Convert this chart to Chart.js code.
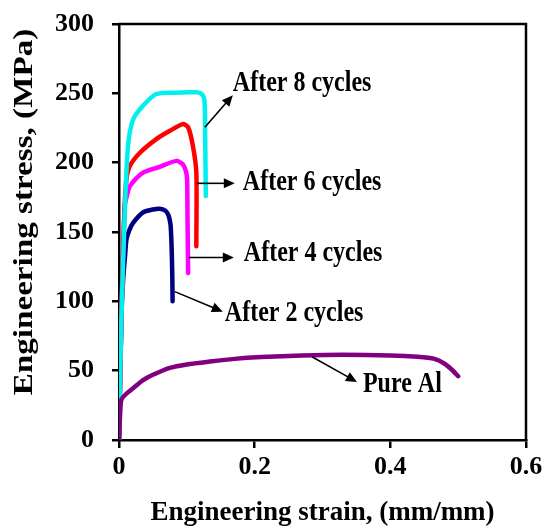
<!DOCTYPE html>
<html>
<head>
<meta charset="utf-8">
<script src="https://cdn.jsdelivr.net/npm/chart.js@4"></script>
<style>
  html, body { margin: 0; padding: 0; background: #ffffff; }
  #wrap { width: 545px; height: 529px; }
</style>
</head>
<body>
<div id="wrap"><canvas id="c" width="545" height="529"></canvas></div>
<script>
// ---- Data ----
const pureAlStrain = [0, 0.002, 0.0035, 0.01, 0.02, 0.035, 0.05, 0.075, 0.1, 0.134, 0.17, 0.21, 0.27, 0.33, 0.4, 0.44, 0.465, 0.48, 0.49, 0.5];
const pureAlStress = [0, 22, 29, 33, 37, 43, 47, 52, 54.5, 56.6, 58.5, 59.8, 61, 61.5, 61, 60, 58.5, 55, 51, 46];

const c2Strain = [0, 0.0035, 0.006, 0.009, 0.011, 0.015, 0.021, 0.035, 0.05, 0.06, 0.068, 0.073, 0.076, 0.0775, 0.0785, 0.079];
const c2Stress = [0, 87, 115, 133, 144.6, 151, 156.7, 164, 166.2, 166.8, 165.5, 162, 155, 140, 120, 100];

const c4Strain = [0, 0.004, 0.0085, 0.012, 0.016, 0.025, 0.0354, 0.06, 0.0847, 0.094, 0.0985, 0.1004, 0.101, 0.1019];
const c4Stress = [0, 100, 168.7, 177, 183, 188.5, 192.8, 197, 201.3, 198.8, 194, 188, 160, 120.5];

const c6Strain = [0, 0.004, 0.008, 0.011, 0.016, 0.0305, 0.055, 0.075, 0.094, 0.102, 0.109, 0.114, 0.114];
const c6Stress = [0, 100, 165, 188, 197.6, 207, 217, 223, 227.8, 225.4, 212, 192.8, 139.8];

const c8Strain = [0, 0.0035, 0.0085, 0.0133, 0.0207, 0.0354, 0.055, 0.08, 0.114, 0.122, 0.126, 0.127, 0.128];
const c8Stress = [0, 87, 164, 212, 231, 241, 249.5, 250.5, 250.7, 249.5, 245, 220, 176];

const seriesNames = ['Pure Al', 'After 8 cycles', 'After 6 cycles', 'After 4 cycles', 'After 2 cycles'];
const xTicks = [0, 0.2, 0.4, 0.6];
const yTicks = [0, 50, 100, 150, 200, 250, 300];
const xTitle = 'Engineering strain, (mm/mm)';
const yTitle = 'Engineering stress, (MPa)';

// Annotation labels (text + data-space anchor of arrow tail, arrow head, text)
const noteTexts = ['After 8 cycles', 'After 6 cycles', 'After 4 cycles', 'After 2 cycles', 'Pure Al'];
const noteTail  = [[0.1266, 225.6], [0.1147, 185.1], [0.1029, 131.6], [0.0822, 107], [0.2844, 60]];
const noteHead  = [[0.1678, 248.7], [0.1707, 185.1], [0.1693, 131.6], [0.153, 92.5], [0.3508, 41.9]];
const noteText  = [[0.1678, 257.4], [0.1826, 185.8], [0.184, 134.5], [0.156, 91], [0.3596, 39.8]];

// ---- Build chart ----
const zip = (xs, ys) => xs.map((x, i) => ({ x: x, y: ys[i] }));
const colors = ['#800080', '#00F0F0', '#FF0000', '#FF00FF', '#000080'];
const seriesData = [
  zip(pureAlStrain, pureAlStress),
  zip(c8Strain, c8Stress),
  zip(c6Strain, c6Stress),
  zip(c4Strain, c4Stress),
  zip(c2Strain, c2Stress)
];

const FONT = "'Liberation Serif', 'Times New Roman', serif";

const frameAndNotes = {
  id: 'frameAndNotes',
  afterDraw(chart) {
    const { ctx, chartArea: a, scales } = chart;
    const xs = scales.x, ys = scales.y;
    ctx.save();
    // top and right frame lines
    ctx.strokeStyle = '#000';
    ctx.lineWidth = 2.5;
    ctx.beginPath();
    ctx.moveTo(a.left - 1, a.top);
    ctx.lineTo(a.right, a.top);
    ctx.lineTo(a.right, a.bottom + 1);
    ctx.stroke();
    // y axis title (tall serif look of the reference)
    ctx.save();
    ctx.translate(25, 212);
    ctx.rotate(-Math.PI / 2);
    ctx.scale(1.25, 1);
    ctx.font = 'bold 26.5px ' + FONT;
    ctx.fillStyle = '#000';
    ctx.textAlign = 'center';
    ctx.textBaseline = 'middle';
    ctx.fillText(yTitle, 0, 0);
    ctx.restore();
    // annotations
    for (let i = 0; i < noteTexts.length; i++) {
      const x0 = xs.getPixelForValue(noteTail[i][0]), y0 = ys.getPixelForValue(noteTail[i][1]);
      const x1 = xs.getPixelForValue(noteHead[i][0]), y1 = ys.getPixelForValue(noteHead[i][1]);
      const ang = Math.atan2(y1 - y0, x1 - x0);
      const L = 11, W = 5;
      ctx.strokeStyle = '#000';
      ctx.fillStyle = '#000';
      ctx.lineWidth = 1.6;
      ctx.beginPath();
      ctx.moveTo(x0, y0);
      ctx.lineTo(x1 - Math.cos(ang) * L * 0.8, y1 - Math.sin(ang) * L * 0.8);
      ctx.stroke();
      ctx.beginPath();
      ctx.moveTo(x1, y1);
      ctx.lineTo(x1 - Math.cos(ang) * L - Math.sin(ang) * W, y1 - Math.sin(ang) * L + Math.cos(ang) * W);
      ctx.lineTo(x1 - Math.cos(ang) * L + Math.sin(ang) * W, y1 - Math.sin(ang) * L - Math.cos(ang) * W);
      ctx.closePath();
      ctx.fill();
      const tx = xs.getPixelForValue(noteText[i][0]), ty = ys.getPixelForValue(noteText[i][1]);
      ctx.save();
      ctx.translate(tx, ty);
      ctx.scale(1, 1.22);
      ctx.font = 'bold 24px ' + FONT;
      ctx.textAlign = 'left';
      ctx.textBaseline = 'middle';
      ctx.fillText(noteTexts[i], 0, 0);
      ctx.restore();
    }
    ctx.restore();
  }
};

new Chart(document.getElementById('c'), {
  type: 'line',
  data: {
    datasets: seriesData.map((d, i) => ({
      label: seriesNames[i],
      data: d,
      borderColor: colors[i],
      backgroundColor: colors[i],
      borderWidth: 4.5,
      pointRadius: 0,
      tension: 0.25,
      borderCapStyle: 'round',
      borderJoinStyle: 'round',
      fill: false
    }))
  },
  options: {
    responsive: false,
    animation: false,
    layout: { padding: { top: 24, right: 19, left: 0, bottom: 0 } },
    plugins: { legend: { display: false }, tooltip: { enabled: false } },
    scales: {
      x: {
        type: 'linear',
        min: 0, max: 0.6,
        afterBuildTicks: s => { s.ticks = xTicks.map(v => ({ value: v })); },
        afterFit: s => { s.height = 89; s.paddingLeft = 0; s.paddingRight = 0; },
        ticks: {
          color: '#000',
          padding: 4,
          maxRotation: 0,
          font: { family: FONT, size: 26, weight: 'bold' },
          callback: v => String(v)
        },
        grid: { drawOnChartArea: false, drawTicks: true, tickLength: 8, color: '#000', lineWidth: 2.5 },
        border: { display: true, color: '#000', width: 2.5 },
        title: {
          display: true,
          text: xTitle,
          color: '#000',
          font: { family: FONT, size: 27, weight: 'bold', lineHeight: 1.0 },
          padding: { top: 0, bottom: 2 }
        }
      },
      y: {
        type: 'linear',
        min: 0, max: 300,
        afterBuildTicks: s => { s.ticks = yTicks.map(v => ({ value: v })); },
        afterFit: s => { s.width = 119; s.paddingTop = 0; s.paddingBottom = 0; },
        ticks: {
          color: '#000',
          padding: 18,
          font: { family: FONT, size: 26, weight: 'bold' }
        },
        grid: { drawOnChartArea: false, drawTicks: true, tickLength: 7, color: '#000', lineWidth: 2.5 },
        border: { display: true, color: '#000', width: 2.5 },
        title: { display: false }
      }
    }
  },
  plugins: [frameAndNotes]
});
</script>
</body>
</html>
